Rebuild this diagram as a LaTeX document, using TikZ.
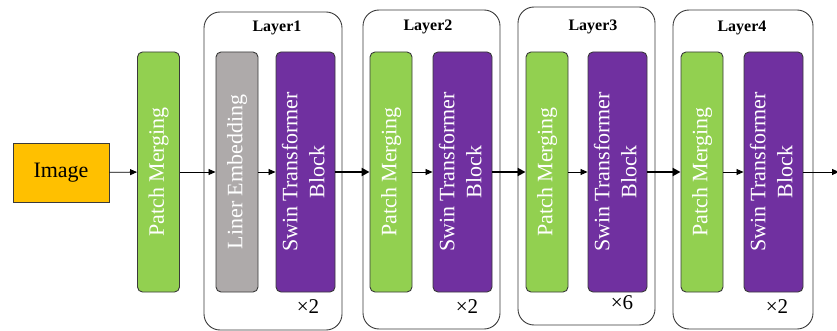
\documentclass[tikz,border=0pt]{standalone}
\usepackage{fontspec}
\setmainfont{Liberation Serif}
\usetikzlibrary{arrows.meta}
\definecolor{pmgreen}{HTML}{92D050}
\definecolor{legray}{HTML}{AEAAAA}
\definecolor{swpurple}{HTML}{7030A0}
\definecolor{imgorange}{HTML}{FFC000}
\definecolor{edge}{HTML}{3A3A3A}
\tikzset{
  blk/.style={draw=edge, line width=0.9pt, rounded corners=5pt, minimum height=240pt, inner sep=0pt, text=white, font=\fontsize{22}{27}\selectfont},
  pmbox/.style={blk, fill=pmgreen, minimum width=42pt},
  lebox/.style={blk, fill=legray, minimum width=42pt},
  swbox/.style={blk, fill=swpurple, minimum width=59pt},
  rtxt/.style={rotate=90, align=center},
  layerbox/.style={draw=edge, line width=0.9pt, rounded corners=16pt, inner sep=0pt},
  layerlbl/.style={font=\fontsize{16}{18}\selectfont\bfseries},
  rep/.style={font=\fontsize{21}{24}\selectfont},
  thin/.style={draw=black!75, line width=0.8pt, -{Triangle[length=7pt,width=6pt]}, black},
  thick/.style={draw=black, line width=2.6pt, -{Triangle[length=8pt,width=8pt]}},
}
\begin{document}
\begin{tikzpicture}[x=1pt,y=-1pt]
\useasboundingbox (0,0) rectangle (837,331);
% layer frames
\node[layerbox, minimum width=138pt, minimum height=318pt] (L1) at (273,171) {};
\node[layerbox, minimum width=137pt, minimum height=319pt] (L2) at (431.5,169.5) {};
\node[layerbox, minimum width=137pt, minimum height=318pt] (L3) at (586.5,166) {};
\node[layerbox, minimum width=140pt, minimum height=319pt] (L4) at (743,169.5) {};
\node[layerlbl] (L1t) at (277,28) {Layer1};
\node[layerlbl] (L2t) at (428,27) {Layer2};
\node[layerlbl] (L3t) at (593,27) {Layer3};
\node[layerlbl] (L4t) at (742,28) {Layer4};
% image
\node[draw=edge, line width=0.9pt, fill=imgorange, minimum width=96pt, minimum height=59pt, inner sep=0pt, font=\fontsize{22}{27}\selectfont] (img) at (61,172.5) {Image};
% blocks
\node[pmbox] (pm0) at (158.5,172) {\rotatebox{90}{Patch Merging}};
\node[lebox] (le) at (237,172) {\rotatebox{90}{Liner Embedding}};
\node[swbox] (sw1) at (305.5,172) {\rotatebox{90}{\begin{tabular}{@{}c@{}}Swin Transformer\\Block\end{tabular}}};
\node[pmbox] (pm2) at (391,172) {\rotatebox{90}{Patch Merging}};
\node[swbox] (sw2) at (462.5,172) {\rotatebox{90}{\begin{tabular}{@{}c@{}}Swin Transformer\\Block\end{tabular}}};
\node[pmbox] (pm3) at (547,172) {\rotatebox{90}{Patch Merging}};
\node[swbox] (sw3) at (617.5,172) {\rotatebox{90}{\begin{tabular}{@{}c@{}}Swin Transformer\\Block\end{tabular}}};
\node[pmbox] (pm4) at (702,172) {\rotatebox{90}{Patch Merging}};
\node[swbox] (sw4) at (773.5,172) {\rotatebox{90}{\begin{tabular}{@{}c@{}}Swin Transformer\\Block\end{tabular}}};
% repetition marks
\node[rep] (r1) at (308,307) {×2};
\node[rep] (r2) at (467,307) {×2};
\node[rep] (r3) at (622,303) {×6};
\node[rep] (r4) at (777,307) {×2};
% connectors
\coordinate (out) at (839,172);
\draw[thin] (img) -- (pm0);
\draw[thin] (pm0) -- (le);
\draw[thin] (le) -- (sw1);
\draw[thick] (sw1) -- (pm2);
\draw[thin] (pm2) -- (sw2);
\draw[thick] (sw2) -- (pm3);
\draw[thin] (pm3) -- (sw3);
\draw[thick] (sw3) -- (pm4);
\draw[thin] (pm4) -- (sw4);
\draw[thin] (sw4) -- (out);
\end{tikzpicture}
\end{document}
